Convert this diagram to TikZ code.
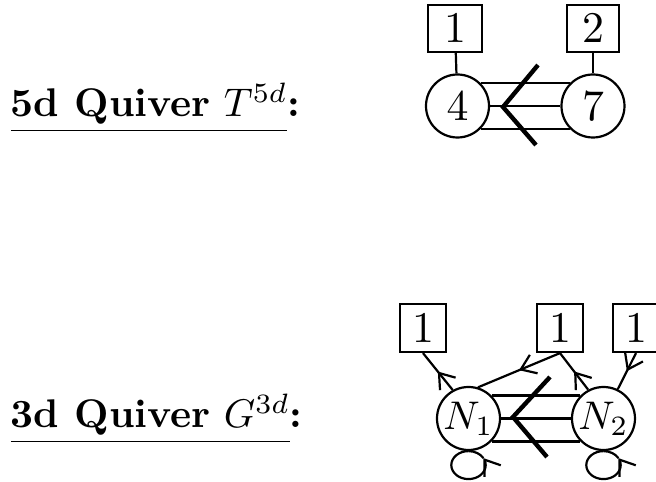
\documentclass[tikz,border=0pt]{standalone}
\usepackage{amsmath}
\usepackage{amsfonts}
\usetikzlibrary{arrows.meta,decorations.markings}

\begin{document}
\begin{tikzpicture}[x=0.25pt,y=-0.25pt,
		gauge/.style={circle,draw,line width=0.55pt,minimum size=15.75pt,inner sep=0pt,font=\fontsize{11}{13}\selectfont},
		flavour/.style={rectangle,draw,line width=0.55pt,minimum width=13pt,minimum height=11.75pt,inner sep=0pt,font=\fontsize{11}{13}\selectfont},
		link/.style={line width=0.55pt},
		fold/.style={line width=1.1pt},
		barb/.style={-{Straight Barb[length=3.5pt,width=5pt]}},
		midarrow/.style={postaction={decorate,decoration={markings,mark=at position #1 with {\arrow{Straight Barb[length=3.5pt,width=5pt]}}}}},
		midarrow/.default=0.5]
	\useasboundingbox (0,0) rectangle (656,482);

	% labels
	\node[anchor=base west,inner sep=0pt] (lab5d) at (10,117) {\underline{\textbf{5d Quiver} $T^{5d}$}\textbf{:}};
	\node[anchor=base west,inner sep=0pt] (lab3d) at (10,428) {\underline{\textbf{3d Quiver} $G^{3d}$}\textbf{:}};

	% 5d quiver
	\node[gauge] (four) at (457.5,106) {$4$};
	\node[gauge] (seven) at (593,106) {$7$};
	\node[flavour,minimum width=13.5pt] (fone) at (455,28.5) {$1$};
	\node[flavour] (ftwo) at (593,28.5) {$2$};
	\draw[link] (fone) -- (four);
	\draw[link] (ftwo) -- (seven);
	\foreach \a/\b in {45/135,0/180,-45/-135}
		\draw[link] (four.\a) -- (seven.\b);
	\draw[fold] (538,65) -- (503,107) -- (536,145);

	% 3d quiver
	\node[gauge,font=\fontsize{10}{12}\selectfont] (none) at (468.5,418.5) {$N_1$};
	\node[gauge,font=\fontsize{10}{12}\selectfont] (ntwo) at (603.5,418.5) {$N_2$};
	\foreach \n/\x in {fa/423,fb/560,fc/636}
		\node[flavour,minimum width=11.5pt,minimum height=12pt] (\n) at (\x,328) {$1$};
	\foreach \a/\b in {45/135,0/180,-45/-135}
		\draw[link] (none.\a) -- (ntwo.\b);
	\draw[fold] (550,377) -- (513,417) -- (547,457);

	\draw[link,midarrow] (none.119) -- (fa.south);
	\draw[link,midarrow] (fb.south) -- (none.73);
	\draw[link,midarrow] (ntwo.118) -- (fb.south);
	\draw[link,midarrow] (fc.south) -- (ntwo.64);
	\foreach \n in {none,ntwo}{
		\draw[link,barb] (\n.south) arc[start angle=90,end angle=390,x radius=4.3pt,y radius=3.5pt];
		\draw[link] (\n.south) arc[start angle=90,end angle=30,x radius=4.3pt,y radius=3.5pt];
	}
\end{tikzpicture}
\end{document}
